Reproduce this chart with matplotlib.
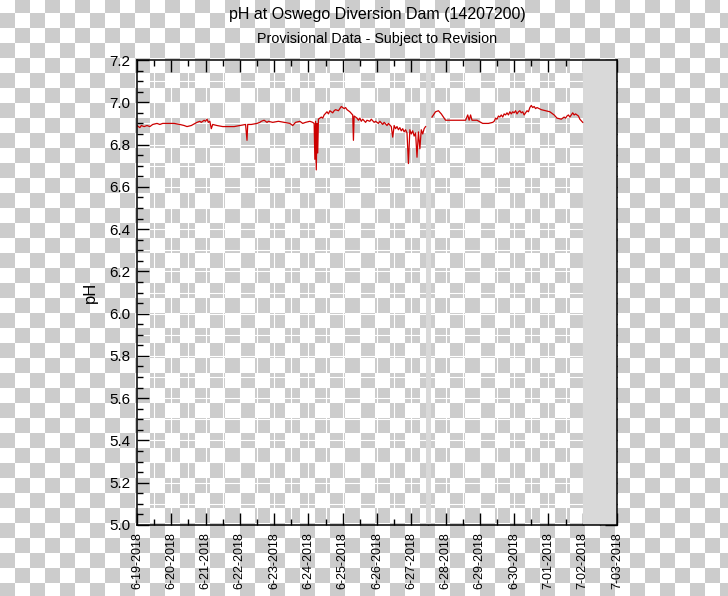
import matplotlib
matplotlib.use('Agg')
import matplotlib.pyplot as plt
import numpy as np
import pandas as pd

plt.rcParams.update({'font.family': 'Liberation Sans'})

# pH readings, hours since 6-19-2018 00:00 (nan = data gap)
hours = [0, 2, 3, 5, 7, 9, 11, 14, 16, 18, 22, 26, 30, 33, 35, 38, 42, 44, 45, 47, 48, 49, 50, 51,
         52, 53, 56, 60, 64, 68, 72, 76, 77, 77.5, 80, 84, 86, 87, 89, 91, 92, 95, 99, 103, 107, 109,
         111, 114, 116, 118, 121, 123, 124, 124.5, 125, 125.5, 126, 126.5, 127, 129, 130, 131, 133, 134, 135, 137,
         138, 139, 141, 143, 145, 146, 147, 149, 151, 151.5, 152,
         154, 155, 156, 157, 158, 160, 161, 163, 164, 166, 167, 169, 170, 172, 173, 175, 176, 178, 179, 180,
         181, 182, 183, 184, 185, 186, 187, 188, 189, 190, 191, 192, 193, 194, 195, 196, 197, 198, 199, 200,
         201, 202, 204, 206.5, 209, 211, 213, 216, 220, 225,
         230, 231.5, 232.5, 233.5, 234.5, 238, 242, 246, 249, 250, 251, 252, 253, 254, 255, 256, 257, 258, 259, 260,
         261, 262, 263, 264, 265, 266, 267, 268, 269, 270, 271, 272, 273, 274, 275, 276, 277, 278, 279, 280,
         283, 286, 289, 292, 294, 297, 299, 300, 301, 302, 303, 305, 306, 307, 309, 310, 312]
ph = [6.89, 6.88, 6.89, 6.885, 6.89, 6.885, 6.895, 6.90, 6.895, 6.90, 6.90, 6.90, 6.895, 6.89, 6.885, 6.89, 6.905, 6.91, 6.905, 6.915, 6.91, 6.92, 6.905, 6.91,
      6.875, 6.895, 6.89, 6.885, 6.885, 6.885, 6.89, 6.895, 6.82, 6.895, 6.895, 6.90, 6.905, 6.91, 6.915, 6.905, 6.91, 6.905, 6.91, 6.905, 6.90, 6.89,
      6.905, 6.91, 6.90, 6.905, 6.91, 6.905, 6.90, 6.73, 6.91, 6.68, 6.90, 6.76, 6.92, 6.93, 6.925, 6.94, 6.955, 6.945, 6.96, 6.95,
      6.96, 6.965, 6.96, 6.98, 6.97, 6.975, 6.965, 6.955, 6.94, 6.82, 6.935,
      6.925, 6.915, 6.925, 6.91, 6.92, 6.905, 6.915, 6.91, 6.92, 6.905, 6.91, 6.90, 6.91, 6.895, 6.905, 6.89, 6.90, 6.885, 6.835, 6.89,
      6.875, 6.885, 6.87, 6.88, 6.865, 6.875, 6.86, 6.87, 6.855, 6.71, 6.87, 6.85, 6.865, 6.84, 6.855, 6.74, 6.86, 6.78, 6.87, 6.85,
      6.875, 6.885, np.nan, 6.93, 6.955, 6.96, 6.945, 6.915, 6.915, 6.915,
      6.915, 6.94, 6.915, 6.94, 6.915, 6.915, 6.90, 6.90, 6.905, 6.91, 6.925, 6.92, 6.935, 6.93, 6.94, 6.93, 6.945, 6.94, 6.95, 6.94,
      6.955, 6.945, 6.955, 6.95, 6.96, 6.945, 6.955, 6.96, 6.95, 6.955, 6.94, 6.95, 6.96, 6.955, 6.975, 6.985, 6.975, 6.98, 6.97, 6.975,
      6.965, 6.96, 6.955, 6.94, 6.925, 6.92, 6.93, 6.925, 6.935, 6.94, 6.93, 6.95, 6.94, 6.945, 6.935, 6.92, 6.905]

start = pd.Timestamp('2018-06-19')
day_labels = ['6-19-2018', '6-20-2018', '6-21-2018', '6-22-2018', '6-23-2018', '6-24-2018', '6-25-2018',
              '6-26-2018', '6-27-2018', '6-28-2018', '6-29-2018', '6-30-2018', '7-01-2018', '7-02-2018', '7-03-2018']
y_ticks = [5.0, 5.2, 5.4, 5.6, 5.8, 6.0, 6.2, 6.4, 6.6, 6.8, 7.0, 7.2]
gap_hours = (202, 205.5)       # grey bar where record is missing
future_hours = (312, 336)      # grey area after last reading

W, H = 728, 596
fig = plt.figure(figsize=(W / 100, H / 100), dpi=100)

# transparent-background checkerboard
yy, xx = np.mgrid[0:H, 0:W]
checker = ((xx // 15 + (yy + 2) // 15) % 2).astype(float)
bg = np.ones((H, W, 3)) - checker[..., None] * 0.2
fig.figimage(bg, xo=0, yo=0, origin='upper', zorder=0)

ax = fig.add_axes([137 / W, 1 - 525 / H, 480 / W, 465 / H])
ax.set_zorder(2)
ax.patch.set_alpha(0)

t = start + pd.to_timedelta(hours, unit='h')
day_pos = [start + pd.Timedelta(days=i) for i in range(len(day_labels))]
half_pos = [start + pd.Timedelta(hours=12 + 24 * i) for i in range(len(day_labels) - 1)]

# white grid: every half day and every 0.1 pH
for d in day_pos[1:-1] + half_pos:
    ax.axvline(d, color='white', lw=0.8, zorder=1)
for v in np.arange(5.1, 7.2, 0.1):
    ax.axhline(v, color='white', lw=0.8, zorder=1)

ax.axvspan(start + pd.Timedelta(hours=gap_hours[0]), start + pd.Timedelta(hours=gap_hours[1]),
           color='#d9d9d9', lw=0, zorder=2)
ax.axvspan(start + pd.Timedelta(hours=future_hours[0]), start + pd.Timedelta(hours=future_hours[1]),
           color='#d9d9d9', lw=0, zorder=2)

ax.plot(t, ph, color='#cc0000', lw=0.9, zorder=3)

ax.set_xlim(day_pos[0], day_pos[-1])
ax.set_ylim(5.0, 7.2)
ax.set_xticks(day_pos)
ax.set_xticklabels(day_labels, rotation=90, fontsize=9)
ax.set_xticks(half_pos, minor=True)
ax.set_yticks(y_ticks)
ax.set_yticklabels(['%.1f' % v for v in y_ticks], fontsize=11)
ax.set_yticks(np.arange(5.0, 7.2001, 0.05), minor=True)

ax.tick_params(which='both', direction='in', top=True, right=True, width=1, color='black')
ax.tick_params(which='major', length=8.5, pad=5)
ax.tick_params(which='minor', length=4.5)

for s in ax.spines.values():
    s.set_linewidth(1.1)
    s.set_zorder(4)

ax.set_ylabel('pH', fontsize=12, labelpad=8)
fig.text(377 / W, 1 - 14 / H, 'pH at Oswego Diversion Dam (14207200)', ha='center', va='center', fontsize=11.5)
fig.text(377 / W, 1 - 39 / H, 'Provisional Data - Subject to Revision', ha='center', va='center', fontsize=10.3)

fig.savefig('out.png', dpi=100)
